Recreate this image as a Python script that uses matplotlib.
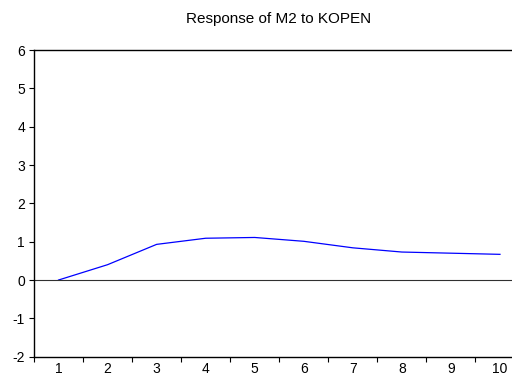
import matplotlib
matplotlib.use("Agg")
import matplotlib.pyplot as plt
import numpy as np

plt.rcParams['font.family'] = ['Liberation Sans', 'DejaVu Sans']

periods = [1, 2, 3, 4, 5, 6, 7, 8, 9, 10]
response = [0.00, 0.40, 0.93, 1.09, 1.11, 1.01, 0.84, 0.73, 0.70, 0.67]
yticks = [-2, -1, 0, 1, 2, 3, 4, 5, 6]
title = "Response of M2 to KOPEN"

fig = plt.figure(figsize=(5.12, 3.81), dpi=100)
ax = fig.add_axes([34/512, 24.3/381, (524.5-34)/512, (356.7-50)/381])

ax.plot(periods, response, color=(0, 0, 1), lw=0.9)
ax.axhline(0, color='#303030', lw=0.8)

ax.set_xlim(0.5, 10.5)
ax.set_ylim(-2, 6)
ax.set_yticks(yticks)
ax.set_yticklabels([str(v) for v in yticks])
ax.set_xticks(periods)
ax.set_xticklabels([str(p) for p in periods])
ax.set_xticks(np.arange(0.5, 11, 1), minor=True)
ax.tick_params(axis='x', which='major', length=0, pad=4, labelsize=10)
ax.tick_params(axis='x', which='minor', length=3.5, width=0.8, direction='out')
ax.tick_params(axis='y', length=3.5, width=0.8, pad=3, labelsize=10)

for s in ['left', 'top', 'bottom']:
    ax.spines[s].set_linewidth(1.0)
    ax.spines[s].set_color('black')
ax.spines['right'].set_visible(False)

fig.text(279/512, 1 - 19/381, title, ha='center', va='center', fontsize=11)

fig.savefig("out.png", dpi=100)
